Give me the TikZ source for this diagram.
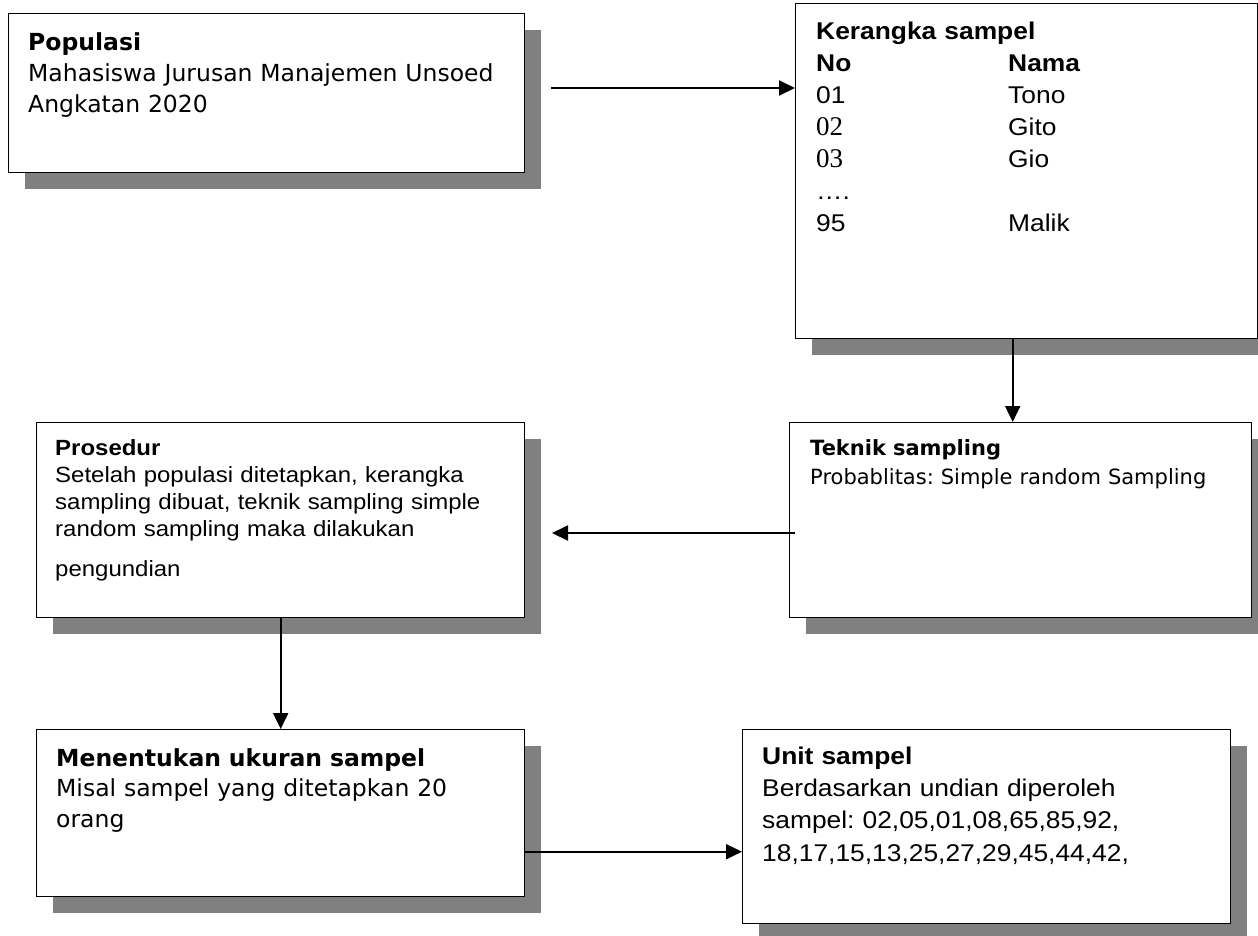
\documentclass[tikz,border=0pt]{standalone}
\usepackage{fontspec}
\usetikzlibrary{arrows.meta,shadows}
\newfontfamily\tahomafont{DejaVu Sans}
\newfontfamily\arialfont{Liberation Sans}[FakeStretch=1.09]
\newfontfamily\timesfont{Liberation Serif}[FakeStretch=1.0]
\frenchspacing

\begin{document}
\begin{tikzpicture}[x=1pt,y=-1pt,
 kotak/.style={draw=black, line width=1.4pt, fill=white, anchor=north west, inner sep=0pt,
  drop shadow={shadow xshift=16pt, shadow yshift=-16pt, fill=black!50, opacity=1}},
 isi/.style={anchor=base west, inner sep=0pt, align=left, text width=470pt},
 panah/.style={line width=2pt, -{Triangle[length=16pt,width=15pt]}}]

\useasboundingbox[fill=white] (0,0) rectangle (1258,935);

 \node[kotak, minimum width=516pt, minimum height=159pt] (populasi) at (8,13) {};
 \node[kotak, minimum width=462pt, minimum height=335pt] (kerangka) at (795,3) {};
 \node[kotak, minimum width=488pt, minimum height=195pt] (prosedur) at (36,422) {};
 \node[kotak, minimum width=462pt, minimum height=195pt] (teknik) at (789,422) {};
 \node[kotak, minimum width=488pt, minimum height=167pt] (ukuran) at (36,729) {};
 \node[kotak, minimum width=488pt, minimum height=194pt] (unit) at (742,729) {};

 \node[isi, font=\tahomafont\fontsize{23.5pt}{31pt}\selectfont] (tpopulasi) at (28,50)
  {\textbf{Populasi}\\ Mahasiswa Jurusan Manajemen Unsoed\\ Angkatan 2020};
 \node[isi, font=\arialfont\fontsize{24.2pt}{32pt}\selectfont] (tkerangka) at (816,39)
  {\textbf{Kerangka sampel}\\
   \makebox[192pt][l]{\textbf{No}}\textbf{Nama}\\
   \makebox[192pt][l]{01}Tono\\
   \makebox[192pt][l]{\timesfont\fontsize{27pt}{32pt}\selectfont 02}Gito\\
   \makebox[192pt][l]{\timesfont\fontsize{27pt}{32pt}\selectfont 03}Gio\\
   ….\\
   \makebox[192pt][l]{95}Malik};
 \node[isi, font=\arialfont\fontsize{22pt}{27pt}\selectfont] (tprosedur) at (55,455)
  {\textbf{Prosedur}\\ Setelah populasi ditetapkan, kerangka\\ sampling dibuat, teknik sampling simple\\
   random sampling maka dilakukan\\[13pt] pengundian};
 \node[isi, font=\tahomafont\fontsize{21pt}{29pt}\selectfont] (tteknik) at (810,455)
  {\textbf{Teknik sampling}\\ Probablitas: Simple random Sampling};
 \node[isi, font=\tahomafont\fontsize{23.5pt}{30.5pt}\selectfont] (tukuran) at (56,766)
  {\textbf{Menentukan ukuran sampel}\\ Misal sampel yang ditetapkan 20\\ orang};
 \node[isi, font=\arialfont\fontsize{24.2pt}{32pt}\selectfont] (tunit) at (762,764)
  {\textbf{Unit sampel}\\ Berdasarkan undian diperoleh\\ sampel: 02,05,01,08,65,85,92,\\[1pt]
   18,17,15,13,25,27,29,45,44,42,};

 \coordinate (a1) at (551,88);
 \coordinate (a3) at (552,533);
 \draw[panah] (a1) -- (kerangka.west |- a1);
 \draw[panah] ([xshift=-14pt]kerangka.south) -- ([xshift=-14pt]kerangka.south |- teknik.north);
 \draw[panah] ([xshift=6pt]teknik.west |- a3) -- (a3);
 \draw[panah] (prosedur.south) -- (ukuran.north);
 \draw[panah] ([yshift=-38.5pt]ukuran.east) -- ([yshift=-38.5pt]ukuran.east -| unit.west);

\end{tikzpicture}
\end{document}
